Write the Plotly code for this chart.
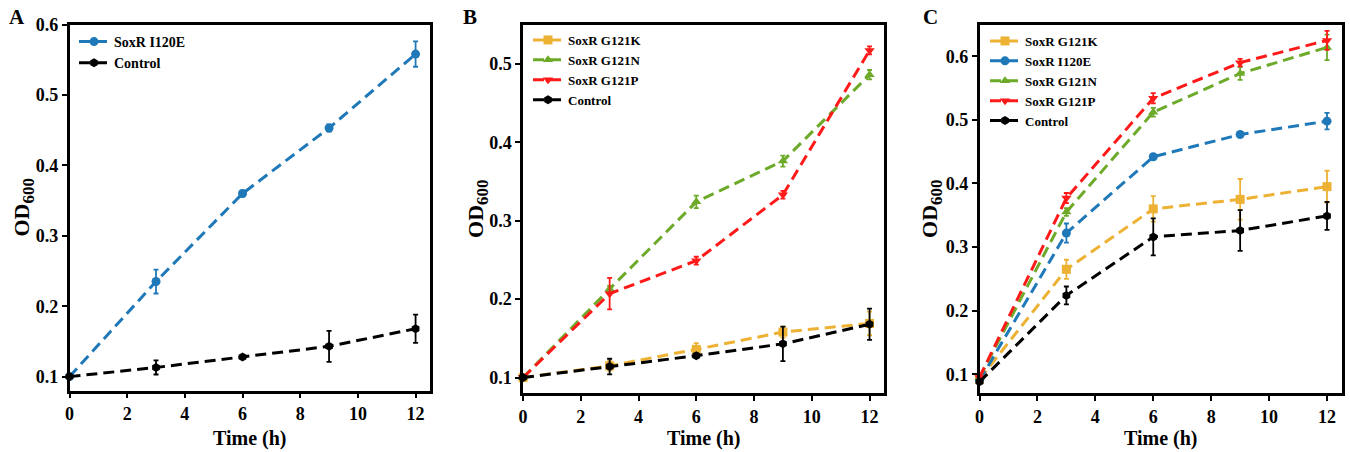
import plotly.graph_objects as go

# ---------------- data ----------------
time_h = [0, 3, 6, 9, 12]

# Panel A
a_i120e = [0.100, 0.235, 0.360, 0.453, 0.558]
a_i120e_err = [0.0, 0.017, 0.004, 0.005, 0.018]
a_control = [0.100, 0.113, 0.128, 0.143, 0.168]
a_control_err = [0.0, 0.010, 0.003, 0.022, 0.020]

# Panel B
b_g121k = [0.100, 0.115, 0.136, 0.158, 0.169]
b_g121k_err = [0.0, 0.006, 0.008, 0.007, 0.015]
b_g121n = [0.100, 0.213, 0.324, 0.376, 0.486]
b_g121n_err = [0.0, 0.004, 0.008, 0.007, 0.006]
b_g121p = [0.100, 0.207, 0.249, 0.333, 0.517]
b_g121p_err = [0.0, 0.020, 0.005, 0.005, 0.005]
b_control = [0.100, 0.114, 0.128, 0.143, 0.168]
b_control_err = [0.0, 0.010, 0.003, 0.022, 0.020]

# Panel C
c_g121k = [0.092, 0.265, 0.360, 0.375, 0.395]
c_g121k_err = [0.0, 0.015, 0.020, 0.032, 0.025]
c_i120e = [0.090, 0.322, 0.442, 0.477, 0.498]
c_i120e_err = [0.0, 0.015, 0.004, 0.004, 0.013]
c_g121n = [0.095, 0.355, 0.512, 0.573, 0.614]
c_g121n_err = [0.0, 0.006, 0.007, 0.010, 0.020]
c_g121p = [0.095, 0.377, 0.534, 0.590, 0.625]
c_g121p_err = [0.0, 0.008, 0.008, 0.006, 0.015]
c_control = [0.088, 0.224, 0.316, 0.326, 0.349]
c_control_err = [0.0, 0.014, 0.029, 0.032, 0.022]

x_ticks = [0, 2, 4, 6, 8, 10, 12]
y_ticks_a = [0.1, 0.2, 0.3, 0.4, 0.5, 0.6]
y_ticks_b = [0.1, 0.2, 0.3, 0.4, 0.5]
y_ticks_c = [0.1, 0.2, 0.3, 0.4, 0.5, 0.6]

# ---------------- styles ----------------
COL = {
    "G121K": "#EDB133",
    "I120E": "#1F78B8",
    "G121N": "#6EAA2A",
    "G121P": "#FF1A1A",
    "Control": "#000000",
}
SYM = {
    "G121K": "square",
    "I120E": "circle",
    "G121N": "triangle-up",
    "G121P": "triangle-down",
    "Control": "hexagon",
}
FONT = "Liberation Serif, Times New Roman, serif"

fig = go.Figure()


def add(name, key, y, err, xa, ya, legend):
    fig.add_trace(go.Scatter(
        x=time_h, y=y, name=name, mode="lines+markers",
        line=dict(color=COL[key], width=3, dash="11px,6px"),
        marker=dict(color=COL[key], symbol=SYM[key], size=9),
        error_y=dict(type="data", array=err, visible=True, color=COL[key],
                     thickness=1.8, width=2.5),
        xaxis=xa, yaxis=ya, legend=legend, cliponaxis=False,
    ))


add("SoxR I120E", "I120E", a_i120e, a_i120e_err, "x", "y", "legend")
add("Control", "Control", a_control, a_control_err, "x", "y", "legend")

add("SoxR G121K", "G121K", b_g121k, b_g121k_err, "x2", "y2", "legend2")
add("SoxR G121N", "G121N", b_g121n, b_g121n_err, "x2", "y2", "legend2")
add("SoxR G121P", "G121P", b_g121p, b_g121p_err, "x2", "y2", "legend2")
add("Control", "Control", b_control, b_control_err, "x2", "y2", "legend2")

add("SoxR G121K", "G121K", c_g121k, c_g121k_err, "x3", "y3", "legend3")
add("SoxR I120E", "I120E", c_i120e, c_i120e_err, "x3", "y3", "legend3")
add("SoxR G121N", "G121N", c_g121n, c_g121n_err, "x3", "y3", "legend3")
add("SoxR G121P", "G121P", c_g121p, c_g121p_err, "x3", "y3", "legend3")
add("Control", "Control", c_control, c_control_err, "x3", "y3", "legend3")

W, H = 1350, 452


def px_x(p):
    return p / W


def px_y(p):
    return 1 - p / H


tickfont = dict(family=FONT, size=18, color="black", weight="bold")
common_x = dict(range=[0, 12.5], tickvals=x_ticks, ticks="outside", ticklen=5,
                tickwidth=2, tickcolor="black", showline=True, linewidth=2.5,
                linecolor="black", mirror=True, showgrid=False, zeroline=False,
                tickfont=tickfont, automargin=False)
common_y = dict(ticks="outside", ticklen=5, tickwidth=2, tickcolor="black",
                showline=True, linewidth=2.5, linecolor="black", mirror=True,
                showgrid=False, zeroline=False, tickfont=tickfont,
                tickformat=".1f", automargin=False)

doms_x = [(69.5, 430), (523, 884), (979.5, 1341.5)]
doms_y = [(24.5, 390.7), (24.5, 393.3), (24.5, 393.3)]

fig.update_layout(
    width=W, height=H, margin=dict(l=0, r=0, t=0, b=0, autoexpand=False),
    paper_bgcolor="white", plot_bgcolor="white",
    showlegend=True,
    xaxis=dict(domain=[px_x(doms_x[0][0]), px_x(doms_x[0][1])], anchor="y", **common_x),
    yaxis=dict(domain=[px_y(doms_y[0][1]), px_y(doms_y[0][0])], anchor="x",
               range=[0.08, 0.6], tickvals=y_ticks_a, **common_y),
    xaxis2=dict(domain=[px_x(doms_x[1][0]), px_x(doms_x[1][1])], anchor="y2", **common_x),
    yaxis2=dict(domain=[px_y(doms_y[1][1]), px_y(doms_y[1][0])], anchor="x2",
                range=[0.08, 0.55], tickvals=y_ticks_b, **common_y),
    xaxis3=dict(domain=[px_x(doms_x[2][0]), px_x(doms_x[2][1])], anchor="y3", **common_x),
    yaxis3=dict(domain=[px_y(doms_y[2][1]), px_y(doms_y[2][0])], anchor="x3",
                range=[0.07, 0.65], tickvals=y_ticks_c, **common_y),
)

legfont = dict(family=FONT, size=14, color="black", weight="bold")
leg_pos = [(74, 26, 14), (528, 25, 13), (985, 26, 13)]
for lname, (lx, ly, fs) in zip(["legend", "legend2", "legend3"], leg_pos):
    fig.update_layout({lname: dict(x=px_x(lx), y=px_y(ly), xanchor="left", yanchor="top",
                                   bgcolor="rgba(0,0,0,0)", borderwidth=0,
                                   font=dict(legfont, size=fs), tracegroupgap=0,
                                   itemwidth=30)})

# panel letters and axis titles
letters = [("A", 17), ("B", 470), ("C", 930)]
for txt, x in letters:
    fig.add_annotation(text=txt, x=px_x(x), y=px_y(17), xref="paper", yref="paper",
                       showarrow=False, xanchor="center", yanchor="middle",
                       font=dict(family=FONT, size=21, color="black", weight="bold"))

ytitle_x = [24, 478, 932]
for (d0, d1), (t0, b0), yx in zip(doms_x, doms_y, ytitle_x):
    fig.add_annotation(text="Time (h)", x=px_x((d0 + d1) / 2), y=px_y(438),
                       xref="paper", yref="paper", showarrow=False,
                       xanchor="center", yanchor="middle",
                       font=dict(family=FONT, size=20, color="black", weight="bold"))
    fig.add_annotation(text="OD<sub><span style='font-size:17px'>600</span></sub>",
                       x=px_x(yx), y=px_y((t0 + b0) / 2),
                       xref="paper", yref="paper", showarrow=False, textangle=-90,
                       xanchor="center", yanchor="middle",
                       font=dict(family=FONT, size=22, color="black", weight="bold"))

fig.write_html("out.html", config={"displayModeBar": False},
               post_script="document.body.style.margin='0px';document.body.style.overflow='hidden';")
